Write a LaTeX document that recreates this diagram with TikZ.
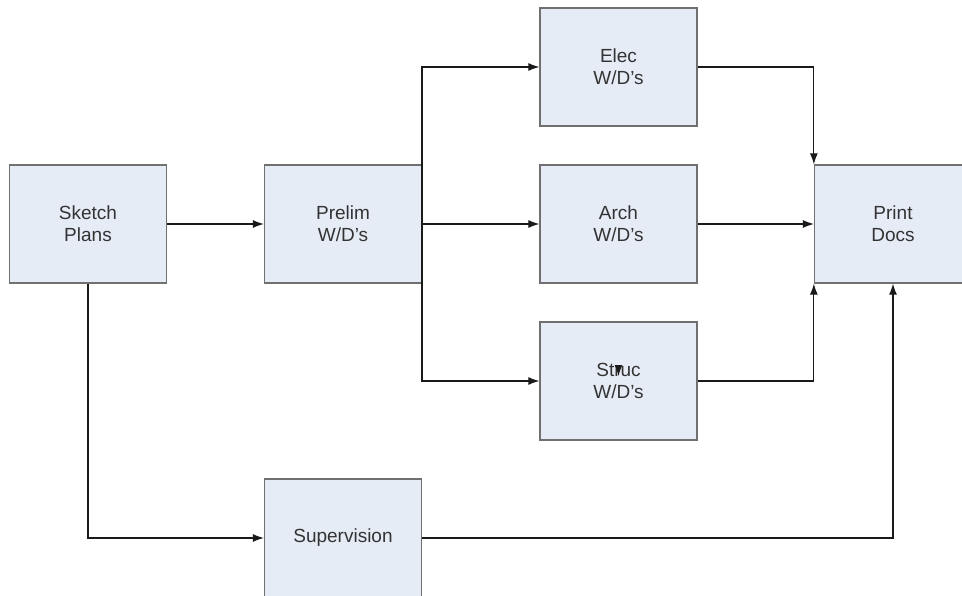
\documentclass[tikz,border=0pt]{standalone}
\usepackage{fontspec}
\setmainfont{Liberation Sans}
\usetikzlibrary{arrows.meta}
\definecolor{boxfill}{HTML}{E6ECF6}
\definecolor{boxline}{HTML}{707070}
\definecolor{conn}{HTML}{1A1A1A}
\begin{document}
\begin{tikzpicture}[x=1pt,y=-1pt,
  blk/.style={draw=boxline,line width=1.3pt,fill=boxfill,minimum width=157pt,minimum height=118pt,
    inner sep=0pt,align=center,font=\fontsize{19}{22}\selectfont,text=black!80},
  link/.style={draw=conn,line width=1.1pt,-{Latex[length=11pt,width=8pt]}},
  plain/.style={draw=conn,line width=1.1pt}]
\useasboundingbox (0,0) rectangle (962,596);
\node[blk] (sketch) at (88,224) {Sketch\\Plans};
\node[blk] (prelim) at (343,224) {Prelim\\W/D's};
\node[blk] (elec) at (618.5,67) {Elec\\W/D's};
\node[blk] (arch) at (618.5,224) {Arch\\W/D's};
\node[blk] (struc) at (618.5,381) {Struc\\W/D's};
\node[blk] (print) at (893,224) {Print\\Docs};
\node[blk] (superv) at (343,538) {Supervision};
\coordinate (split) at (422,224);
\draw[link] (sketch) -- (prelim);
\draw[link] (sketch.south) |- (superv.west);
\draw[link] (prelim) -- (arch);
\draw[link] (split) |- (elec.west);
\draw[link] (split) |- (struc.west);
\draw[link] (elec.east) -| (print.north west);
\draw[link] (arch) -- (print);
\draw[link] (struc.east) -| (print.south west);
\draw[link] (superv.east) -| (print.south);
\draw[link] ([yshift=13pt]struc.center) -- ([yshift=5pt]struc.center);
\end{tikzpicture}
\end{document}
